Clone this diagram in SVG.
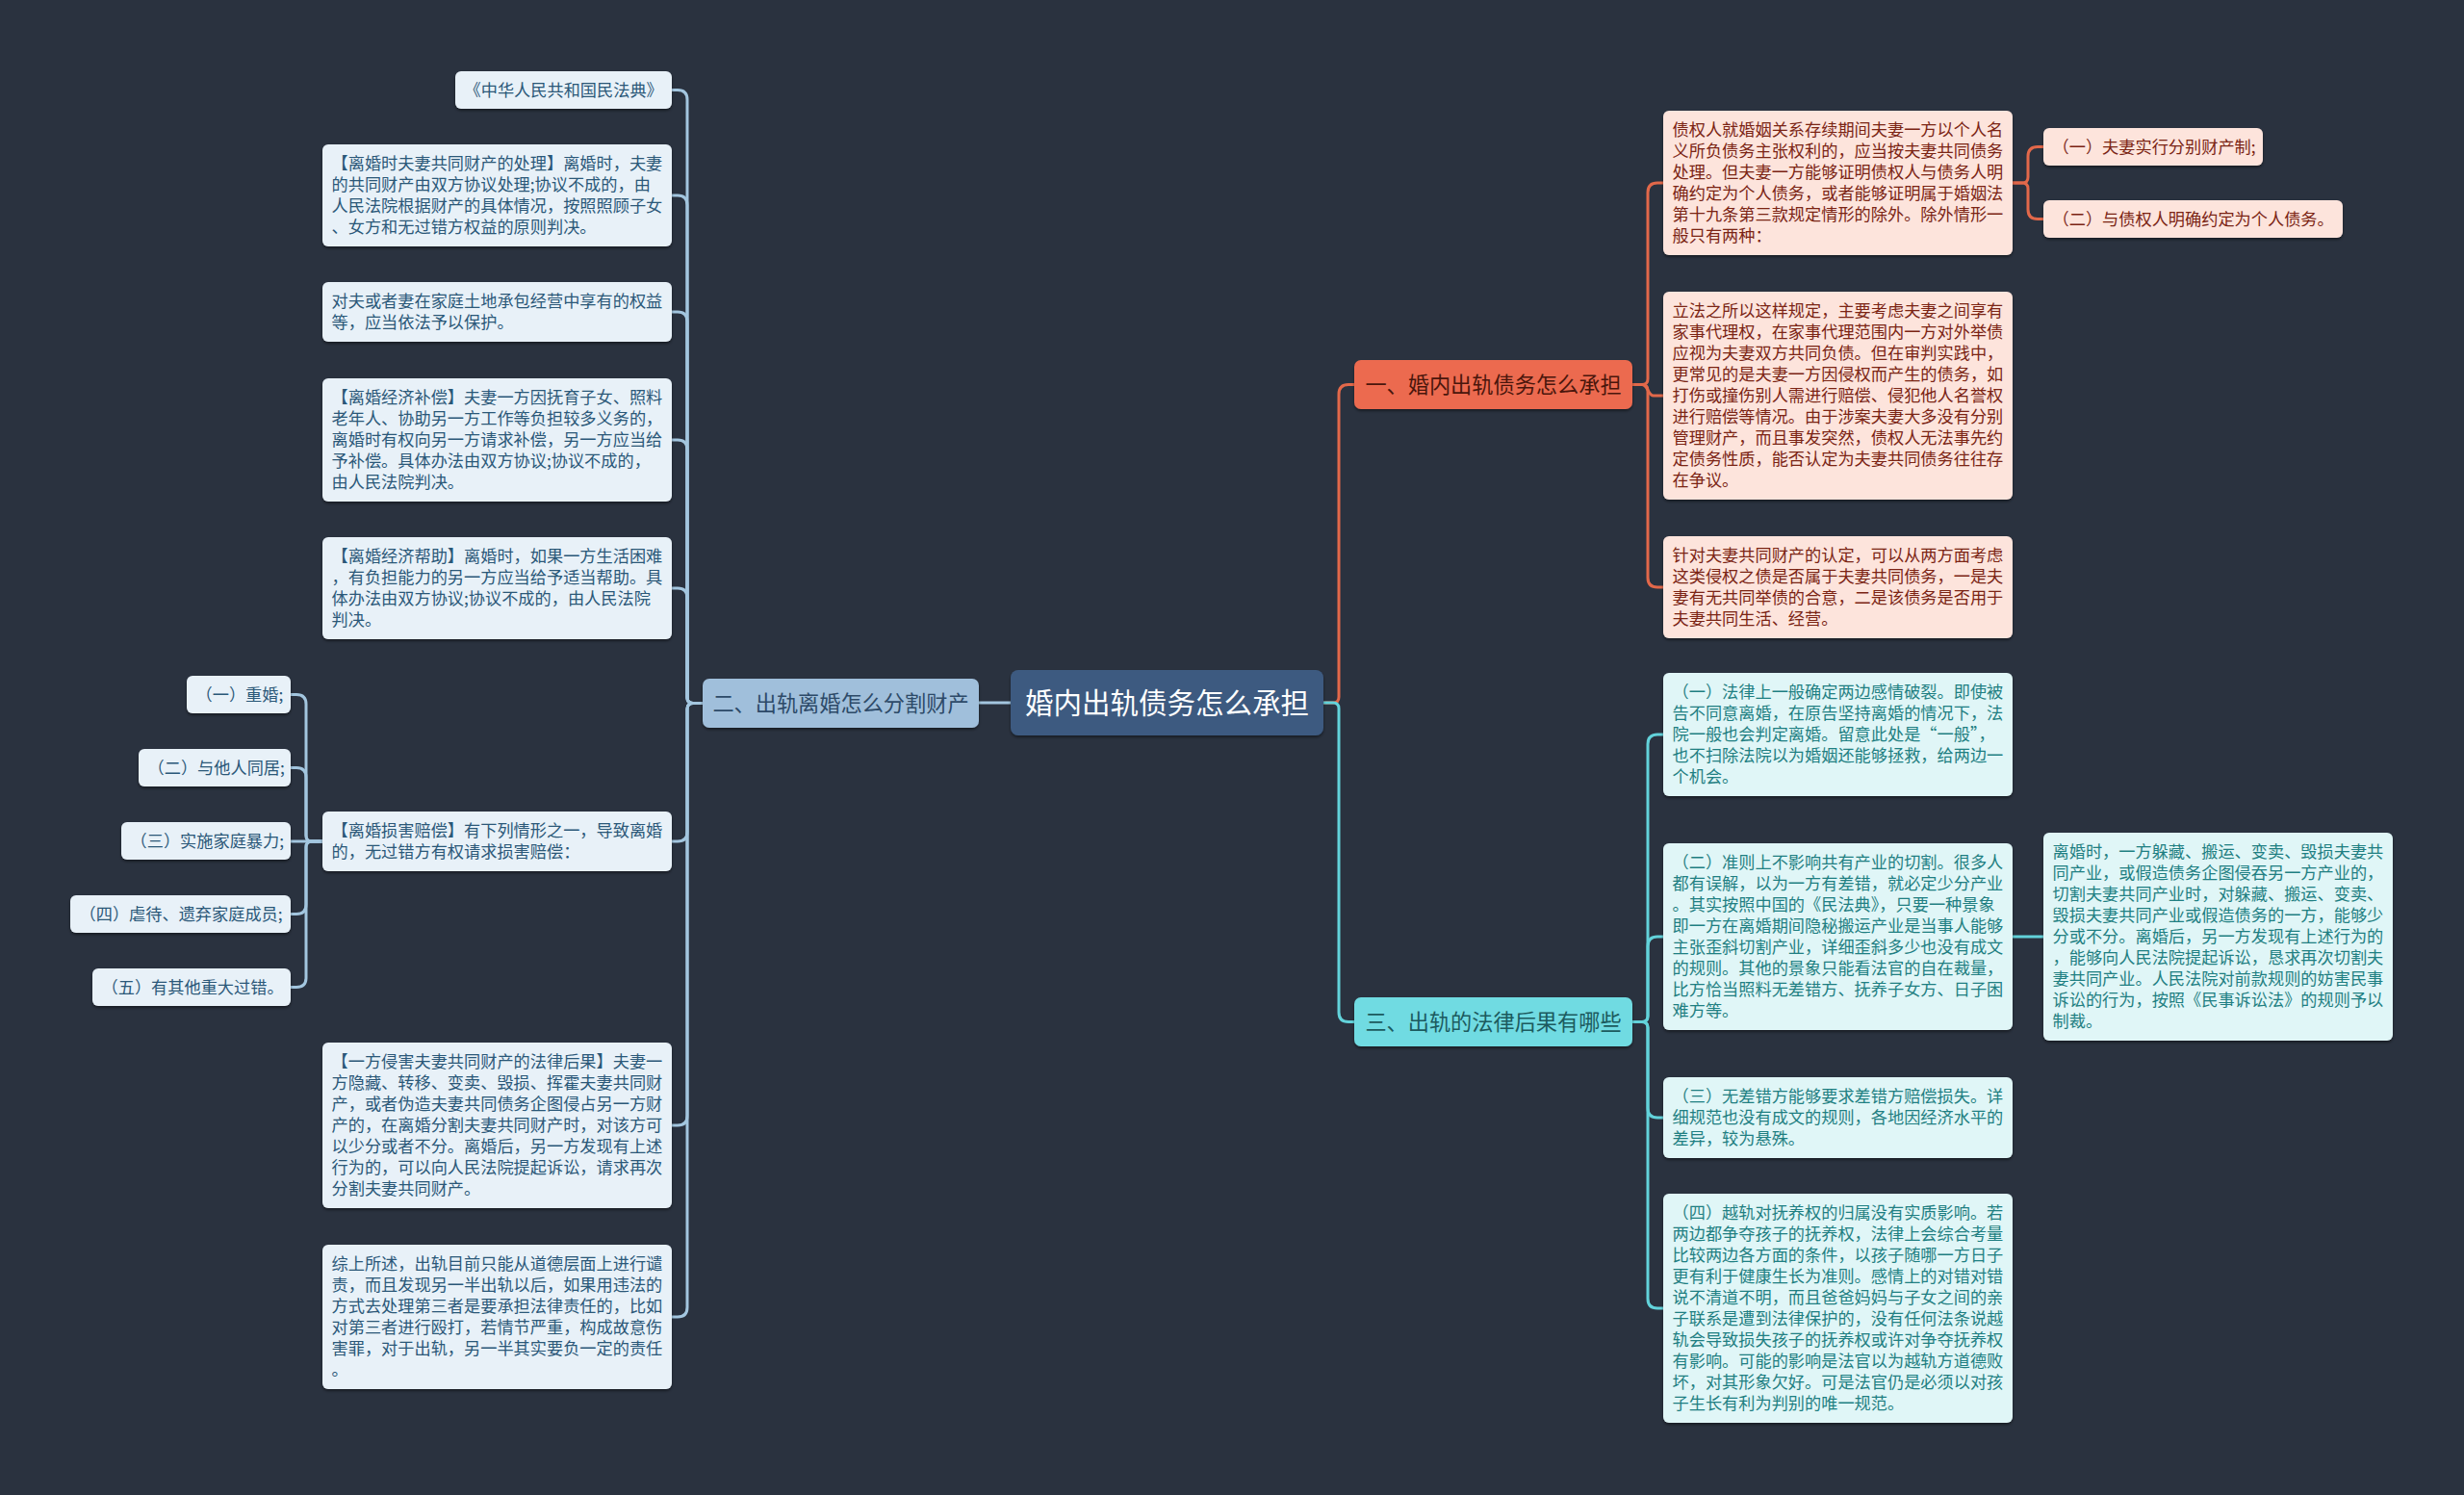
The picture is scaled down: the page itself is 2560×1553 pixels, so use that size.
<svg xmlns="http://www.w3.org/2000/svg" width="2560" height="1553" viewBox="0 0 2560 1553">
<defs>
<filter id="sh" x="-5%" y="-5%" width="110%" height="120%"><feDropShadow dx="0" dy="2" stdDeviation="1.5" flood-color="#000" flood-opacity="0.45"/></filter>
<style>
text{font-family:"Noto Sans CJK SC","Noto Sans",sans-serif;}
.leaf{font-size:17.2px;}
.bl{fill:#e8f1f8;filter:url(#sh);}
.br{fill:#fde4dc;filter:url(#sh);}
.bc{fill:#e0f6f7;filter:url(#sh);}
.tl{fill:#2b5878;}
.tr{fill:#7b2414;}
.tc{fill:#1f7f82;}
.cl{fill:none;stroke:#a3c6df;stroke-width:3;}
.co{fill:none;stroke:#e2684a;stroke-width:3;}
.cc{fill:none;stroke:#62d2da;stroke-width:3;}
.br1{font-size:22.2px;}
</style>
</defs>
<rect x="0" y="0" width="2560" height="1553" fill="#2a323f"/>

<g id="connectors">
<path class="cl" d="M1050,730 H1017"/>
<path class="co" d="M1375,730 H1385 Q1391,730 1391,724 V409.5 Q1391,399.5 1401,399.5 H1407"/>
<path class="cc" d="M1375,730 H1385 Q1391,730 1391,736 V1051.5 Q1391,1061.5 1401,1061.5 H1407"/>

<path class="co" d="M1696,399.5 H1706 Q1712,399.5 1712,393.5 V200 Q1712,190 1722,190 H1728"/>
<path class="co" d="M1696,399.5 H1706 C1712,399.5 1712,411 1718,411 H1728"/>
<path class="co" d="M1696,399.5 H1706 Q1712,399.5 1712,405.5 V600 Q1712,610 1722,610 H1728"/>
<path class="co" d="M2091,190 H2101 Q2107,190 2107,184 V162.5 Q2107,152.5 2117,152.5 H2123"/>
<path class="co" d="M2091,190 H2101 Q2107,190 2107,196 V217.5 Q2107,227.5 2117,227.5 H2123"/>

<path class="cc" d="M1696,1061.5 H1706 Q1712,1061.5 1712,1055.5 V773 Q1712,763 1722,763 H1728"/>
<path class="cc" d="M1696,1061.5 H1706 Q1712,1061.5 1712,1055.5 V983 Q1712,973 1722,973 H1728"/>
<path class="cc" d="M1696,1061.5 H1706 Q1712,1061.5 1712,1067.5 V1151 Q1712,1161 1722,1161 H1728"/>
<path class="cc" d="M1696,1061.5 H1706 Q1712,1061.5 1712,1067.5 V1349 Q1712,1359 1722,1359 H1728"/>
<path class="cc" d="M2091,973 H2123"/>

<path class="cl" d="M730,730.5 H720 Q714,730.5 714,724.5 V103.5 Q714,93.5 704,93.5 H698"/>
<path class="cl" d="M730,730.5 H720 Q714,730.5 714,724.5 V213 Q714,203 704,203 H698"/>
<path class="cl" d="M730,730.5 H720 Q714,730.5 714,724.5 V334 Q714,324 704,324 H698"/>
<path class="cl" d="M730,730.5 H720 Q714,730.5 714,724.5 V467 Q714,457 704,457 H698"/>
<path class="cl" d="M730,730.5 H720 Q714,730.5 714,724.5 V621 Q714,611 704,611 H698"/>
<path class="cl" d="M730,730.5 H720 Q714,730.5 714,736.5 V864 Q714,874 704,874 H698"/>
<path class="cl" d="M730,730.5 H720 Q714,730.5 714,736.5 V1159 Q714,1169 704,1169 H698"/>
<path class="cl" d="M730,730.5 H720 Q714,730.5 714,736.5 V1358 Q714,1368 704,1368 H698"/>

<path class="cl" d="M335,874 H324 Q318,874 318,868 V731.5 Q318,721.5 308,721.5 H302"/>
<path class="cl" d="M335,874 H324 Q318,874 318,868 V807.5 Q318,797.5 308,797.5 H302"/>
<path class="cl" d="M335,874 H302"/>
<path class="cl" d="M335,874 H324 Q318,874 318,880 V939.5 Q318,949.5 308,949.5 H302"/>
<path class="cl" d="M335,874 H324 Q318,874 318,880 V1015.5 Q318,1025.5 308,1025.5 H302"/>
</g>

<g id="node-root">
<rect x="1050" y="696" width="325" height="68" rx="8" fill="#3d5a80" filter="url(#sh)"/>
<text x="1212.5" y="741" font-size="29.5" fill="#ffffff" text-anchor="middle">婚内出轨债务怎么承担</text>
</g>

<g id="node-b1">
<rect x="1407" y="374" width="289" height="51" rx="7" fill="#ec6b4f" filter="url(#sh)"/>
<text class="br1" x="1551.5" y="408" fill="#4a160c" text-anchor="middle">一、婚内出轨债务怎么承担</text>
</g>
<g id="node-b2">
<rect x="730" y="705" width="287" height="51" rx="7" fill="#a0bfdb" filter="url(#sh)"/>
<text class="br1" x="873.5" y="739" fill="#2d4a68" text-anchor="middle">二、出轨离婚怎么分割财产</text>
</g>
<g id="node-b3">
<rect x="1407" y="1036" width="289" height="51" rx="7" fill="#70dbe2" filter="url(#sh)"/>
<text class="br1" x="1551.5" y="1070" fill="#1c5a5e" text-anchor="middle">三、出轨的法律后果有哪些</text>
</g>

<g id="node-n1">
<rect class="bl" x="473" y="74" width="225" height="39" rx="6"/>
<text class="leaf tl" x="482.5" y="100">《中华人民共和国民法典》</text>
</g>
<g id="node-n2">
<rect class="bl" x="335" y="150" width="363" height="106" rx="6"/>
<text class="leaf tl" x="344.5" y="176"><tspan x="344.5">【离婚时夫妻共同财产的处理】离婚时，夫妻</tspan><tspan x="344.5" dy="22">的共同财产由双方协议处理;协议不成的，由</tspan><tspan x="344.5" dy="22">人民法院根据财产的具体情况，按照照顾子女</tspan><tspan x="344.5" dy="22">、女方和无过错方权益的原则判决。</tspan></text>
</g>
<g id="node-n3">
<rect class="bl" x="335" y="293" width="363" height="62" rx="6"/>
<text class="leaf tl" x="344.5" y="319"><tspan x="344.5">对夫或者妻在家庭土地承包经营中享有的权益</tspan><tspan x="344.5" dy="22">等，应当依法予以保护。</tspan></text>
</g>
<g id="node-n4">
<rect class="bl" x="335" y="393" width="363" height="128" rx="6"/>
<text class="leaf tl" x="344.5" y="419"><tspan x="344.5">【离婚经济补偿】夫妻一方因抚育子女、照料</tspan><tspan x="344.5" dy="22">老年人、协助另一方工作等负担较多义务的，</tspan><tspan x="344.5" dy="22">离婚时有权向另一方请求补偿，另一方应当给</tspan><tspan x="344.5" dy="22">予补偿。具体办法由双方协议;协议不成的，</tspan><tspan x="344.5" dy="22">由人民法院判决。</tspan></text>
</g>
<g id="node-n5">
<rect class="bl" x="335" y="558" width="363" height="106" rx="6"/>
<text class="leaf tl" x="344.5" y="584"><tspan x="344.5">【离婚经济帮助】离婚时，如果一方生活困难</tspan><tspan x="344.5" dy="22">，有负担能力的另一方应当给予适当帮助。具</tspan><tspan x="344.5" dy="22">体办法由双方协议;协议不成的，由人民法院</tspan><tspan x="344.5" dy="22">判决。</tspan></text>
</g>
<g id="node-n6">
<rect class="bl" x="335" y="843" width="363" height="62" rx="6"/>
<text class="leaf tl" x="344.5" y="869"><tspan x="344.5">【离婚损害赔偿】有下列情形之一，导致离婚</tspan><tspan x="344.5" dy="22">的，无过错方有权请求损害赔偿：</tspan></text>
</g>
<g id="node-n7">
<rect class="bl" x="335" y="1083" width="363" height="172" rx="6"/>
<text class="leaf tl" x="344.5" y="1109"><tspan x="344.5">【一方侵害夫妻共同财产的法律后果】夫妻一</tspan><tspan x="344.5" dy="22">方隐藏、转移、变卖、毁损、挥霍夫妻共同财</tspan><tspan x="344.5" dy="22">产，或者伪造夫妻共同债务企图侵占另一方财</tspan><tspan x="344.5" dy="22">产的，在离婚分割夫妻共同财产时，对该方可</tspan><tspan x="344.5" dy="22">以少分或者不分。离婚后，另一方发现有上述</tspan><tspan x="344.5" dy="22">行为的，可以向人民法院提起诉讼，请求再次</tspan><tspan x="344.5" dy="22">分割夫妻共同财产。</tspan></text>
</g>
<g id="node-n8">
<rect class="bl" x="335" y="1293" width="363" height="150" rx="6"/>
<text class="leaf tl" x="344.5" y="1319"><tspan x="344.5">综上所述，出轨目前只能从道德层面上进行谴</tspan><tspan x="344.5" dy="22">责，而且发现另一半出轨以后，如果用违法的</tspan><tspan x="344.5" dy="22">方式去处理第三者是要承担法律责任的，比如</tspan><tspan x="344.5" dy="22">对第三者进行殴打，若情节严重，构成故意伤</tspan><tspan x="344.5" dy="22">害罪，对于出轨，另一半其实要负一定的责任</tspan><tspan x="344.5" dy="22">。</tspan></text>
</g>

<g id="node-f1">
<rect class="bl" x="194" y="702" width="108" height="39" rx="6"/>
<text class="leaf tl" x="203.5" y="728">（一）重婚;</text>
</g>
<g id="node-f2">
<rect class="bl" x="144" y="778" width="158" height="39" rx="6"/>
<text class="leaf tl" x="153.5" y="804">（二）与他人同居;</text>
</g>
<g id="node-f3">
<rect class="bl" x="126" y="854" width="176" height="39" rx="6"/>
<text class="leaf tl" x="135.5" y="880">（三）实施家庭暴力;</text>
</g>
<g id="node-f4">
<rect class="bl" x="73" y="930" width="229" height="39" rx="6"/>
<text class="leaf tl" x="82.5" y="956">（四）虐待、遗弃家庭成员;</text>
</g>
<g id="node-f5">
<rect class="bl" x="96" y="1006" width="206" height="39" rx="6"/>
<text class="leaf tl" x="105.5" y="1032">（五）有其他重大过错。</text>
</g>

<g id="node-a">
<rect class="br" x="1728" y="115" width="363" height="150" rx="6"/>
<text class="leaf tr" x="1737.5" y="141"><tspan x="1737.5">债权人就婚姻关系存续期间夫妻一方以个人名</tspan><tspan x="1737.5" dy="22">义所负债务主张权利的，应当按夫妻共同债务</tspan><tspan x="1737.5" dy="22">处理。但夫妻一方能够证明债权人与债务人明</tspan><tspan x="1737.5" dy="22">确约定为个人债务，或者能够证明属于婚姻法</tspan><tspan x="1737.5" dy="22">第十九条第三款规定情形的除外。除外情形一</tspan><tspan x="1737.5" dy="22">般只有两种：</tspan></text>
</g>
<g id="node-a1">
<rect class="br" x="2123" y="133" width="228" height="39" rx="6"/>
<text class="leaf tr" x="2132.5" y="159">（一）夫妻实行分别财产制;</text>
</g>
<g id="node-a2">
<rect class="br" x="2123" y="208" width="311" height="39" rx="6"/>
<text class="leaf tr" x="2132.5" y="234">（二）与债权人明确约定为个人债务。</text>
</g>
<g id="node-b">
<rect class="br" x="1728" y="303" width="363" height="216" rx="6"/>
<text class="leaf tr" x="1737.5" y="329"><tspan x="1737.5">立法之所以这样规定，主要考虑夫妻之间享有</tspan><tspan x="1737.5" dy="22">家事代理权，在家事代理范围内一方对外举债</tspan><tspan x="1737.5" dy="22">应视为夫妻双方共同负债。但在审判实践中，</tspan><tspan x="1737.5" dy="22">更常见的是夫妻一方因侵权而产生的债务，如</tspan><tspan x="1737.5" dy="22">打伤或撞伤别人需进行赔偿、侵犯他人名誉权</tspan><tspan x="1737.5" dy="22">进行赔偿等情况。由于涉案夫妻大多没有分别</tspan><tspan x="1737.5" dy="22">管理财产，而且事发突然，债权人无法事先约</tspan><tspan x="1737.5" dy="22">定债务性质，能否认定为夫妻共同债务往往存</tspan><tspan x="1737.5" dy="22">在争议。</tspan></text>
</g>
<g id="node-c">
<rect class="br" x="1728" y="557" width="363" height="106" rx="6"/>
<text class="leaf tr" x="1737.5" y="583"><tspan x="1737.5">针对夫妻共同财产的认定，可以从两方面考虑</tspan><tspan x="1737.5" dy="22">这类侵权之债是否属于夫妻共同债务，一是夫</tspan><tspan x="1737.5" dy="22">妻有无共同举债的合意，二是该债务是否用于</tspan><tspan x="1737.5" dy="22">夫妻共同生活、经营。</tspan></text>
</g>

<g id="node-d">
<rect class="bc" x="1728" y="699" width="363" height="128" rx="6"/>
<text class="leaf tc" x="1737.5" y="725"><tspan x="1737.5">（一）法律上一般确定两边感情破裂。即使被</tspan><tspan x="1737.5" dy="22">告不同意离婚，在原告坚持离婚的情况下，法</tspan><tspan x="1737.5" dy="22">院一般也会判定离婚。留意此处是“一般”，</tspan><tspan x="1737.5" dy="22">也不扫除法院以为婚姻还能够拯救，给两边一</tspan><tspan x="1737.5" dy="22">个机会。</tspan></text>
</g>
<g id="node-e">
<rect class="bc" x="1728" y="876" width="363" height="194" rx="6"/>
<text class="leaf tc" x="1737.5" y="902"><tspan x="1737.5">（二）准则上不影响共有产业的切割。很多人</tspan><tspan x="1737.5" dy="22">都有误解，以为一方有差错，就必定少分产业</tspan><tspan x="1737.5" dy="22">。其实按照中国的《民法典》，只要一种景象</tspan><tspan x="1737.5" dy="22">即一方在离婚期间隐秘搬运产业是当事人能够</tspan><tspan x="1737.5" dy="22">主张歪斜切割产业，详细歪斜多少也没有成文</tspan><tspan x="1737.5" dy="22">的规则。其他的景象只能看法官的自在裁量，</tspan><tspan x="1737.5" dy="22">比方恰当照料无差错方、抚养子女方、日子困</tspan><tspan x="1737.5" dy="22">难方等。</tspan></text>
</g>
<g id="node-e1">
<rect class="bc" x="2123" y="865" width="363" height="216" rx="6"/>
<text class="leaf tc" x="2132.5" y="891"><tspan x="2132.5">离婚时，一方躲藏、搬运、变卖、毁损夫妻共</tspan><tspan x="2132.5" dy="22">同产业，或假造债务企图侵吞另一方产业的，</tspan><tspan x="2132.5" dy="22">切割夫妻共同产业时，对躲藏、搬运、变卖、</tspan><tspan x="2132.5" dy="22">毁损夫妻共同产业或假造债务的一方，能够少</tspan><tspan x="2132.5" dy="22">分或不分。离婚后，另一方发现有上述行为的</tspan><tspan x="2132.5" dy="22">，能够向人民法院提起诉讼，恳求再次切割夫</tspan><tspan x="2132.5" dy="22">妻共同产业。人民法院对前款规则的妨害民事</tspan><tspan x="2132.5" dy="22">诉讼的行为，按照《民事诉讼法》的规则予以</tspan><tspan x="2132.5" dy="22">制裁。</tspan></text>
</g>
<g id="node-f">
<rect class="bc" x="1728" y="1119" width="363" height="84" rx="6"/>
<text class="leaf tc" x="1737.5" y="1145"><tspan x="1737.5">（三）无差错方能够要求差错方赔偿损失。详</tspan><tspan x="1737.5" dy="22">细规范也没有成文的规则，各地因经济水平的</tspan><tspan x="1737.5" dy="22">差异，较为悬殊。</tspan></text>
</g>
<g id="node-g">
<rect class="bc" x="1728" y="1240" width="363" height="238" rx="6"/>
<text class="leaf tc" x="1737.5" y="1266"><tspan x="1737.5">（四）越轨对抚养权的归属没有实质影响。若</tspan><tspan x="1737.5" dy="22">两边都争夺孩子的抚养权，法律上会综合考量</tspan><tspan x="1737.5" dy="22">比较两边各方面的条件，以孩子随哪一方日子</tspan><tspan x="1737.5" dy="22">更有利于健康生长为准则。感情上的对错对错</tspan><tspan x="1737.5" dy="22">说不清道不明，而且爸爸妈妈与子女之间的亲</tspan><tspan x="1737.5" dy="22">子联系是遭到法律保护的，没有任何法条说越</tspan><tspan x="1737.5" dy="22">轨会导致损失孩子的抚养权或许对争夺抚养权</tspan><tspan x="1737.5" dy="22">有影响。可能的影响是法官以为越轨方道德败</tspan><tspan x="1737.5" dy="22">坏，对其形象欠好。可是法官仍是必须以对孩</tspan><tspan x="1737.5" dy="22">子生长有利为判别的唯一规范。</tspan></text>
</g>
</svg>
